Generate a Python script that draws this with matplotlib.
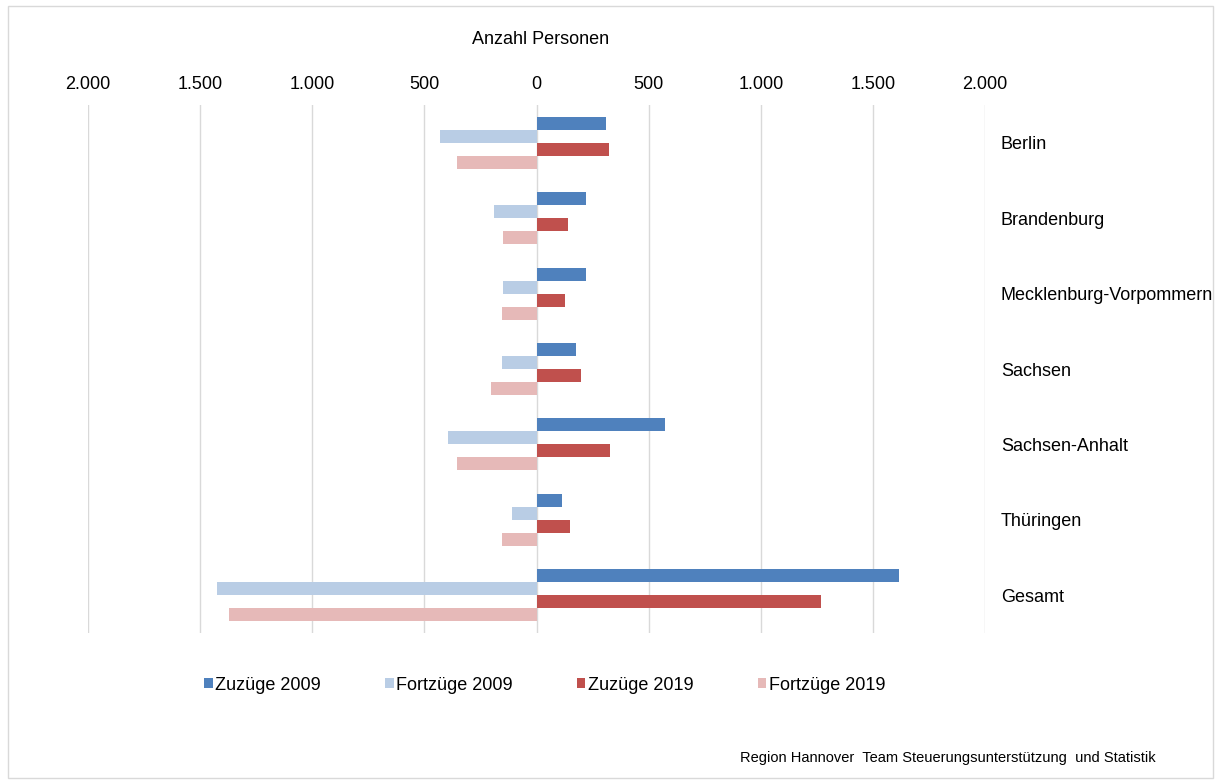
import numpy as np
import matplotlib.pyplot as plt
from matplotlib.patches import Rectangle, Patch
from matplotlib.ticker import FuncFormatter

plt.rcParams['font.family'] = ['Liberation Sans', 'DejaVu Sans']

laender = ['Berlin', 'Brandenburg', 'Mecklenburg-Vorpommern', 'Sachsen',
           'Sachsen-Anhalt', 'Thüringen', 'Gesamt']
zuzuege_2009 = [310, 220, 220, 176, 573, 113, 1618]
fortzuege_2009 = [-430, -189, -149, -153, -394, -108, -1426]
zuzuege_2019 = [325, 140, 127, 198, 328, 149, 1270]
fortzuege_2019 = [-354, -149, -153, -202, -354, -153, -1372]

serien = ['Zuzüge 2009', 'Fortzüge 2009', 'Zuzüge 2019', 'Fortzüge 2019']
farben = ['#4F81BD', '#B9CDE5', '#C0504D', '#E6B9B8']
werte = [zuzuege_2009, fortzuege_2009, zuzuege_2019, fortzuege_2019]

fs = 13
fig = plt.figure(figsize=(12.21, 7.84), dpi=100)
ax = fig.add_axes([88/1221, 1-633/784, (985-88)/1221, (633-105)/784])

y = np.arange(len(laender))
h = 0.172
for i, (w, c) in enumerate(zip(werte, farben)):
    ax.barh(y + (i - 1.5) * h, w, height=h, color=c, zorder=3)

ax.set_xlim(-2000, 2000)
ax.set_ylim(len(laender) - 0.5, -0.5)
ax.set_xticks(np.arange(-2000, 2001, 500))
ax.xaxis.set_major_formatter(FuncFormatter(lambda v, p: f'{abs(int(v)):,}'.replace(',', '.')))
ax.xaxis.tick_top()
ax.tick_params(axis='x', length=0, pad=8.5, labelsize=fs)
ax.grid(axis='x', color='#D9D9D9', linewidth=1, zorder=0)

ax.yaxis.tick_right()
ax.set_yticks(y)
ax.set_yticklabels(laender)
ax.tick_params(axis='y', length=0, pad=11.5, labelsize=fs)
for s in ax.spines.values():
    s.set_visible(False)

fig.text(541/1221, 1-40/784, 'Anzahl Personen', ha='center', va='center', fontsize=fs)

handles = [Patch(facecolor=c, edgecolor='none') for c in farben]
fig.legend(handles, serien, loc='center', bbox_to_anchor=(545/1221, 1-685/784), ncol=4,
           frameon=False, fontsize=fs, handlelength=0.45, handleheight=0.45,
           handletextpad=0.15, columnspacing=3.57)

fig.text(740/1221, 1-758/784, 'Region Hannover  Team Steuerungsunterstützung  und Statistik',
         ha='left', va='center', fontsize=10.5)

fig.patches.append(Rectangle((8/1221, 6/784), 1205/1221, 772/784, transform=fig.transFigure,
                             fill=False, edgecolor='#D9D9D9', linewidth=1))

fig.savefig('out.png', dpi=100)
